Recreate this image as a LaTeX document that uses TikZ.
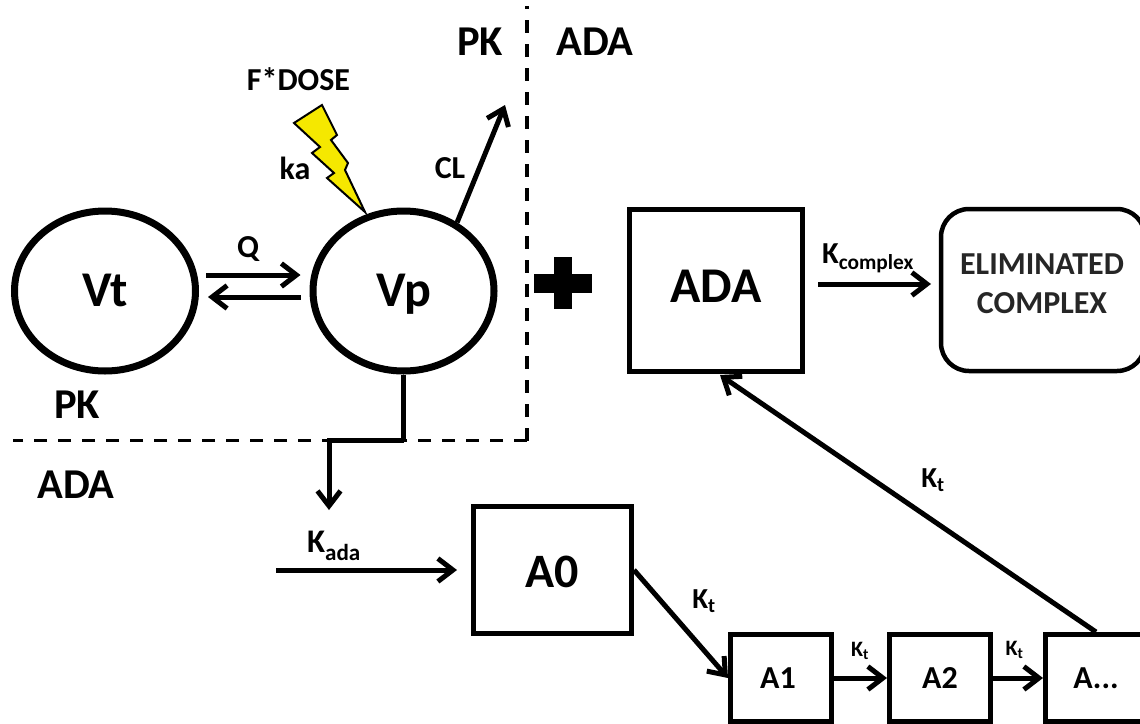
\documentclass[tikz,border=0pt]{standalone}
\usepackage{fontspec}
\setmainfont{Carlito}
\usetikzlibrary{positioning,shapes,arrows.meta}

\definecolor{boltyellow}{RGB}{245,232,0}

\tikzset{
    compart/.style={ellipse, draw, line width=7pt, minimum width=181pt, minimum height=160pt, inner sep=0pt, text height=31pt, text depth=0pt, font=\fontsize{50}{50}\selectfont\bfseries},
    bigbox/.style={rectangle, draw, line width=5pt, inner sep=0pt, font=\fontsize{50}{50}\selectfont\bfseries},
    smallbox/.style={rectangle, draw, line width=5pt, minimum width=101pt, minimum height=87pt, inner sep=0pt, font=\fontsize{32}{32}\selectfont\bfseries},
    flow/.style={-{Straight Barb[length=15pt,width=23pt,line width=5pt]}, line width=5pt},
    lab/.style={inner sep=0pt, font=\fontsize{32}{32}\selectfont\bfseries},
    head/.style={inner sep=0pt, font=\fontsize{42.5}{42.5}\selectfont\bfseries},
    rate/.style={inner sep=0pt, font=\fontsize{29}{29}\selectfont\bfseries},
    ratesmall/.style={inner sep=0pt, font=\fontsize{22}{22}\selectfont\bfseries},
    border/.style={line width=3.4pt, dash pattern=on 13pt off 11pt}
}

\begin{document}
\begin{tikzpicture}[x=1pt, y=-1pt]
        \useasboundingbox (0, 0) rectangle (1140, 723);

        % compartments
        \node[compart] (vt) at (105, 291) {Vt};
        \node[compart] (vp) at (403.5, 291) {Vp};

        % dashed borders
        \coordinate (bordertop) at (527, 6);
        \coordinate (bordercorner) at (527, 440.5);
        \coordinate (borderleft) at (13, 440.5);
        \draw[border] (bordercorner) -- (bordertop);
        \draw[border] (bordercorner) -- (borderleft);

        \node[head] (pkright) at (480, 42) {PK};
        \node[head] (adaright) at (595, 42) {ADA};
        \node[head] (pkleft) at (77, 405) {PK};
        \node[head] (adaleft) at (76, 485) {ADA};

        % dose
        \node[lab] (dose) at (298.5, 79) {F*DOSE};
        \node[lab] (ka) at (295, 168) {ka};
        \node[lab] (cl) at (450, 168) {CL};
        \coordinate (boltend) at (365, 212);
        \draw[fill=boltyellow, line width=2pt] (322, 105) -- (294, 123) -- (320, 147) -- (312, 153) -- (334, 173) -- (327, 178) -- (boltend) -- (345, 170) -- (348, 163) -- (331, 140) -- (337, 135) -- cycle;

        % output
        \coordinate (clout) at (505, 105);
        \draw[flow] (vp.52) -- (clout);

        % exchange
        \draw[flow] ([xshift=7pt,yshift=16pt]vt.east) -- ([xshift=-9pt,yshift=16pt]vp.west);
        \draw[flow] ([xshift=-9pt,yshift=-6pt]vp.west) -- ([xshift=9pt,yshift=-6pt]vt.east);
        \node[lab] (q) at (248, 249) {Q};

        % plus
        \fill (554, 257) rectangle (572, 309);
        \fill (534, 274) rectangle (592, 293);

        % ADA
        \node[bigbox, minimum width=173pt, minimum height=162pt, text height=33pt, text depth=10pt] (ada) at (716, 290.5) {ADA};
        \node[rectangle, draw, line width=4.5pt, rounded corners=28pt, minimum width=204pt, minimum height=162pt, inner sep=0pt] (elim) at (1043, 290) {};
        \node[inner sep=0pt, align=center, font=\fontsize{32}{39}\selectfont\bfseries, text=black!85] (elimlab) at (1042, 284) {ELIMINATED\\COMPLEX};
        \coordinate (elimin) at (931, 284);
        \coordinate (adaout) at (818, 284);
        \draw[flow] (adaout) -- (elimin);
        \node[rate, font=\fontsize{30.5}{30.5}\selectfont\bfseries] (kcomplex) at (868, 258) {K\textsubscript{complex}};

        % transit chain
        \node[bigbox, minimum width=158pt, minimum height=127pt, text height=34pt, text depth=0pt, font=\fontsize{48}{48}\selectfont\bfseries] (a0) at (552.5, 570) {A0};
        \node[smallbox] (a1) at (781, 678) {A1\hspace*{6pt}};
        \node[smallbox] (a2) at (940, 678) {A2};
        \node[smallbox] (a3) at (1096, 678) {A...};

        \coordinate (vpdrop) at (403.5, 440);
        \coordinate (vpturn) at (329, 440);
        \coordinate (kadain) at (329, 510);
        \coordinate (kadastart) at (276, 570);
        \coordinate (kadaend) at (457, 570);
        \draw[line width=4.6pt] (vp.south) -- (vpdrop);
        \draw[flow] (vpdrop) -- (vpturn) -- (kadain);
        \draw[flow] (kadastart) -- (kadaend);
        \node[rate, font=\fontsize{33}{33}\selectfont\bfseries] (kada) at (334, 546) {K\textsubscript{ada}};

        \draw[flow] (a0.east) -- (a1.west);
        \node[rate] (kt0) at (704, 601) {K\textsubscript{t}};
        \draw[flow] (a1) -- (a2);
        \node[ratesmall] (kt1) at (860, 651) {K\textsubscript{t}};
        \draw[flow] (a2) -- (a3);
        \node[ratesmall] (kt2) at (1014.5, 650) {K\textsubscript{t}};
        \coordinate (adain) at (720, 375);
        \draw[flow] (a3.north) -- (adain);
        \node[rate] (kt3) at (933, 480) {K\textsubscript{t}};
\end{tikzpicture}
\end{document}
